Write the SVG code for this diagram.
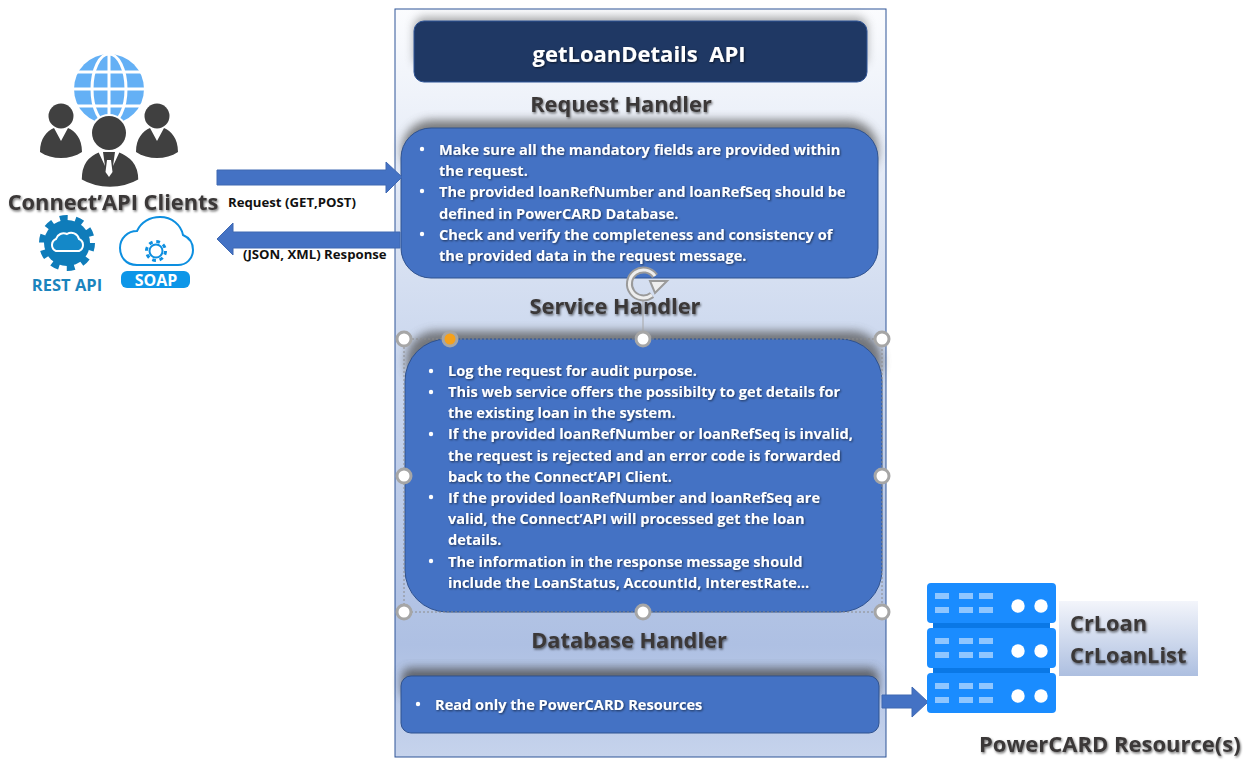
<svg xmlns="http://www.w3.org/2000/svg" width="1257" height="766" viewBox="0 0 1257 766">
<defs>
<linearGradient id="panel" x1="0" y1="0" x2="0" y2="1"><stop offset="0" stop-color="#fbfcfe"/><stop offset="0.45" stop-color="#ccd8ee"/><stop offset="0.85" stop-color="#aec0e3"/><stop offset="1" stop-color="#c6d3ec"/></linearGradient>
<linearGradient id="tbl" x1="0" y1="0" x2="0" y2="1"><stop offset="0" stop-color="#f3f5fb"/><stop offset="1" stop-color="#adbfe0"/></linearGradient>
<filter id="shTop" x="-5%" y="-30%" width="110%" height="160%"><feGaussianBlur stdDeviation="5"/></filter>
<filter id="ts" x="-5%" y="-20%" width="110%" height="150%"><feDropShadow dx="1" dy="1.5" stdDeviation="1" flood-color="#000" flood-opacity="0.55"/></filter>
<filter id="ts2" x="-5%" y="-20%" width="110%" height="150%"><feDropShadow dx="1" dy="1" stdDeviation="0.8" flood-color="#000" flood-opacity="0.6"/></filter>
<g id="unit"><rect x="0" y="0" width="129" height="40" rx="4" fill="#1a8cff"/><g fill="#8fc6ff"><rect x="8" y="10" width="14" height="6"/><rect x="32" y="10" width="14" height="6"/><rect x="52" y="10" width="14" height="6"/><rect x="8" y="24" width="14" height="6"/><rect x="32" y="24" width="14" height="6"/><rect x="52" y="24" width="14" height="6"/></g><circle cx="91" cy="23" r="6.7" fill="#fff"/><circle cx="114" cy="23" r="6.7" fill="#fff"/></g>
<g id="side-person"><circle cx="61" cy="116" r="12.5" fill="#404040"/><path d="M40 152C40 138 47 131 54 128L61 141 68 128C75 131 82 138 82 152 70 160 52 160 40 152Z" fill="#404040"/></g>
</defs>
<style>
.h{font:700 21.8px "Open Sans","Liberation Sans",sans-serif;fill:#3b3838;filter:url(#ts)}
.b{font:700 14.6px "Open Sans","Liberation Sans",sans-serif;fill:#fff;filter:url(#ts2)}
.l{font:700 13.2px "Open Sans","Liberation Sans",sans-serif;fill:#111}
.box{fill:#4472c4;stroke:#2f528f;stroke-width:1}
.arrow{fill:#4472c4;stroke:#3f68b2;stroke-width:1}
.hd{fill:#fff;stroke:#a6a6a6;stroke-width:3}
.sel{fill:none;stroke:#8c8c8c;stroke-width:1;stroke-dasharray:2 2}
.dot{fill:#fff}
</style>

<g id="panel-main"><rect x="395" y="9" width="491" height="748" fill="url(#panel)" stroke="#2f5597" stroke-width="1"/></g>

<g id="title"><rect x="414" y="17" width="453" height="50" rx="10" fill="#555" opacity=".5" filter="url(#shTop)"/><rect x="414" y="21" width="453" height="61" rx="10" fill="#1f3864" stroke="#2f5597"/>
<text x="639" y="62" text-anchor="middle" xml:space="preserve" style="font:700 22px 'Open Sans','Liberation Sans',sans-serif;fill:#fff;filter:url(#ts2)">getLoanDetails  API</text></g>

<g id="request-handler">
<text x="621" y="112" text-anchor="middle" class="h">Request Handler</text>
<rect x="402" y="120" width="476" height="60" rx="30" fill="#555" opacity=".75" filter="url(#shTop)"/>
<rect class="box" x="401" y="128" width="477" height="150" rx="30"/>
<circle class="dot" cx="422" cy="149" r="2.2"/><circle class="dot" cx="422" cy="191" r="2.2"/><circle class="dot" cx="422" cy="234" r="2.2"/>
<text class="b" x="439" y="155">Make sure all the mandatory fields are provided within</text>
<text class="b" x="439" y="176">the request.</text>
<text class="b" x="439" y="197">The provided loanRefNumber and loanRefSeq should be</text>
<text class="b" x="439" y="219">defined in PowerCARD Database.</text>
<text class="b" x="439" y="240">Check and verify the completeness and consistency of</text>
<text class="b" x="439" y="261">the provided data in the request message.</text>
</g>

<g id="service-handler">
<text x="615" y="314" text-anchor="middle" class="h">Service Handler</text>
<rect x="406" y="331" width="476" height="60" rx="30" fill="#555" opacity=".75" filter="url(#shTop)"/>
<rect class="box" x="405" y="339" width="477" height="273" rx="42"/>
<circle class="dot" cx="431" cy="371" r="2.2"/><circle class="dot" cx="431" cy="392" r="2.2"/><circle class="dot" cx="431" cy="434" r="2.2"/><circle class="dot" cx="431" cy="497" r="2.2"/><circle class="dot" cx="431" cy="561" r="2.2"/>
<text class="b" x="448" y="376">Log the request for audit purpose.</text>
<text class="b" x="448" y="397">This web service offers the possibilty to get details for</text>
<text class="b" x="448" y="418">the existing loan in the system.</text>
<text class="b" x="448" y="439">If the provided loanRefNumber or loanRefSeq is invalid,</text>
<text class="b" x="448" y="461">the request is rejected and an error code is forwarded</text>
<text class="b" x="448" y="482">back to the Connect’API Client.</text>
<text class="b" x="448" y="503">If the provided loanRefNumber and loanRefSeq are</text>
<text class="b" x="448" y="524">valid, the Connect’API will processed get the loan</text>
<text class="b" x="448" y="545">details.</text>
<text class="b" x="448" y="567">The information in the response message should</text>
<text class="b" x="448" y="588">include the LoanStatus, AccountId, InterestRate…</text>
</g>

<g id="selection-handles">
<rect class="sel" x="404" y="339" width="478" height="273"/>
<path d="M643 298V339" stroke="#a6a6a6" fill="none"/>
<path d="M655 276A14 14 0 1 0 652 295" fill="none" stroke="#9a9a9a" stroke-width="7"/>
<path d="M655 276A14 14 0 1 0 652 295" fill="none" stroke="#eeeeee" stroke-width="3"/>
<path d="M650 281H667L655 293Z" fill="#eeeeee" stroke="#9a9a9a" stroke-width="2"/>
<circle class="hd" cx="404" cy="339" r="7"/><circle class="hd" cx="643" cy="339" r="7"/><circle class="hd" cx="882" cy="339" r="7"/>
<circle class="hd" cx="404" cy="476" r="7"/><circle class="hd" cx="882" cy="476" r="7"/>
<circle class="hd" cx="404" cy="612" r="7"/><circle class="hd" cx="643" cy="612" r="7"/><circle class="hd" cx="882" cy="612" r="7"/>
<circle cx="450" cy="339" r="7" fill="#f5a11c" stroke="#a6a6a6" stroke-width="3"/>
</g>

<g id="database-handler">
<text x="629" y="648" text-anchor="middle" class="h">Database Handler</text>
<rect x="402" y="668" width="476" height="30" rx="8" fill="#444" opacity=".75" filter="url(#shTop)"/>
<rect class="box" x="401" y="676" width="478" height="57" rx="10"/>
<circle class="dot" cx="418" cy="704" r="2.2"/>
<text class="b" x="435" y="710">Read only the PowerCARD Resources</text>
</g>

<g id="connectors">
<path class="arrow" d="M217 170H386V162L402 177 386 193V185H217Z"/>
<text class="l" x="228" y="207">Request (GET,POST)</text>
<path class="arrow" d="M400 232H233V223L217 239 233 255V248H400Z"/>
<text class="l" x="243" y="259">(JSON, XML) Response</text>
<path class="arrow" d="M882 695H912V687L928 702 912 717V708H882Z"/>
</g>

<g id="clients">
<circle cx="109" cy="89" r="35" fill="#64b0f5"/>
<g stroke="#fff" stroke-width="3" fill="none"><path d="M74 72H144M74 89H144M74 106H144M109 54V124"/><ellipse cx="109" cy="89" rx="17" ry="35"/></g>
<use href="#side-person"/>
<use href="#side-person" transform="translate(96 0)"/>
<circle cx="109" cy="133" r="19" fill="#fff"/>
<circle cx="109" cy="133" r="17" fill="#404040"/>
<path d="M81 180C81 163 88 156 100 151H118C130 156 139 163 139 180 122 190 98 190 81 180Z" fill="#404040" stroke="#fff" stroke-width="1.5"/>
<path d="M98 151L105 166 103 152H115L113 166 120 151Z" fill="#fff"/>
<path d="M107 160H111L112.500 172 109 177 105.500 172Z" fill="#fff"/>
<text x="113" y="210" text-anchor="middle" style="font:700 21.800px 'Open Sans','Liberation Sans',sans-serif;fill:#3b3838;filter:url(#ts)">Connect’API Clients</text>
</g>

<g id="rest-api">
<circle cx="67" cy="243" r="23" fill="#0f7cba"/>
<circle cx="67" cy="243" r="25" fill="none" stroke="#0f7cba" stroke-width="6" stroke-dasharray="7.850 7.850"/>
<path d="M56 251a6.500 6.500 0 0 1 0-12a8 8 0 0 1 11-5a8 8 0 0 1 12 5a6.500 6.500 0 0 1 0 12Z" fill="#1488c8" stroke="#fff" stroke-width="2"/>
<text x="67" y="291" text-anchor="middle" style="font:700 16.500px 'Open Sans','Liberation Sans',sans-serif;fill:#1b84bd">REST API</text>
</g>

<g id="soap">
<path d="M137 265C125 265 120 256 120 248 120 238 128 231 137 231 141 222 150 217 160 217 172 217 181 225 183 235 190 238 193 244 193 250 193 259 186 265 178 265Z" fill="#fff" stroke="#0d8fe0" stroke-width="2"/>
<circle cx="156" cy="251" r="6.500" fill="none" stroke="#0d8fe0" stroke-width="2"/>
<circle cx="156" cy="251" r="9.500" fill="none" stroke="#0d8fe0" stroke-width="3" stroke-dasharray="3.730 3.730"/>
<rect x="121" y="271" width="69" height="17" rx="6" fill="#0d96e8"/>
<text x="156" y="286" text-anchor="middle" style="font:700 16px 'Open Sans','Liberation Sans',sans-serif;fill:#fff">SOAP</text>
</g>

<g id="resources">
<rect x="933" y="620" width="117" height="60" fill="#0a78e6"/>
<use href="#unit" transform="translate(927 583)"/>
<use href="#unit" transform="translate(927 628)"/>
<use href="#unit" transform="translate(927 673)"/>
<rect x="1059" y="601" width="139" height="75" fill="url(#tbl)"/>
<text x="1070" y="631" class="h">CrLoan</text>
<text x="1070" y="663" class="h">CrLoanList</text>
<text x="979" y="752" style="font:700 22px 'Open Sans','Liberation Sans',sans-serif;fill:#3b3838;filter:url(#ts)">PowerCARD Resource(s)</text>
</g>
</svg>
